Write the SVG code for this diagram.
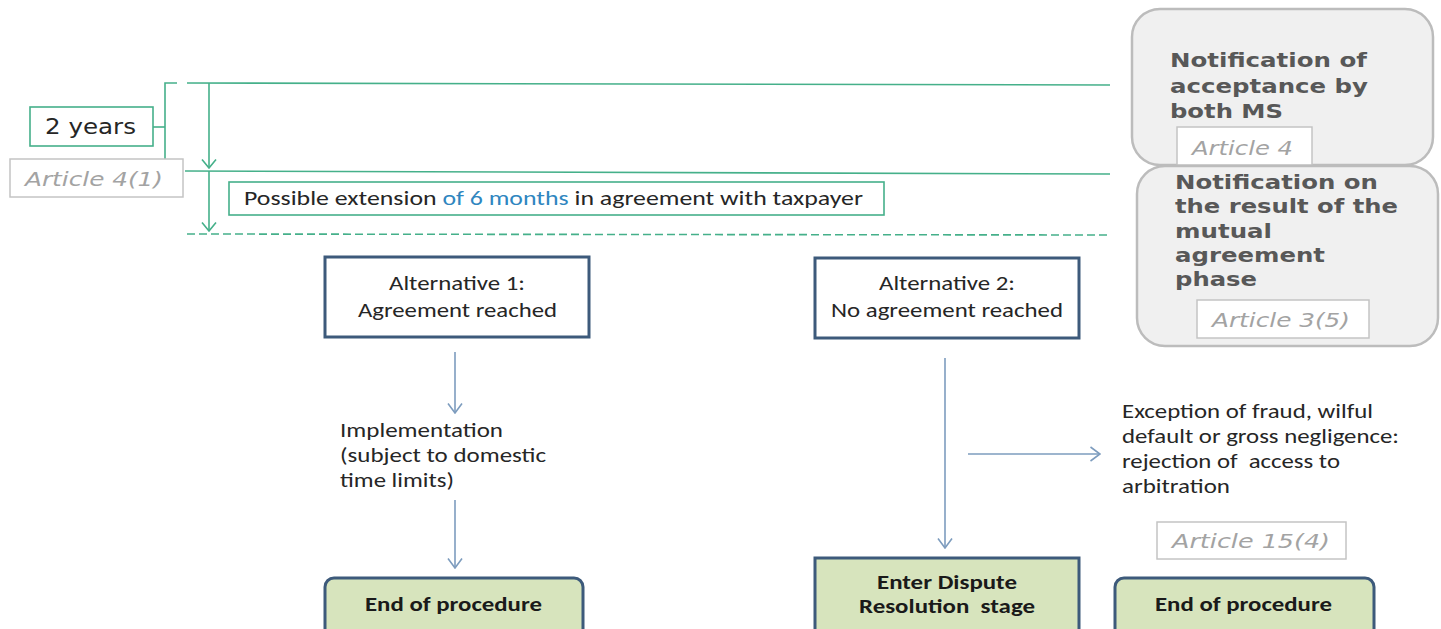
<svg xmlns="http://www.w3.org/2000/svg" width="1441" height="629" viewBox="0 0 1441 629">
<defs>
<style>
.g{stroke:#45b08a;stroke-width:1.6;fill:none}
.gd{stroke:#45b08a;stroke-width:1.6;fill:none;stroke-dasharray:8 4}
.bl{stroke:#7d9cbe;stroke-width:1.6;fill:none}
.art{fill:#fff;stroke:#c4c4c4;stroke-width:1.5}
.artt{font-family:"DejaVu Sans",sans-serif;font-style:italic;font-size:20px;fill:#a3a3a3}
.notif{fill:#f0f0f0;stroke:#bcbcbc;stroke-width:2.5}
.nt{font-family:"DejaVu Sans",sans-serif;font-weight:bold;font-size:19px;fill:#585858}
.alt{fill:#fff;stroke:#3d5a7b;stroke-width:3}
.cal{font-family:"Carlito","Liberation Sans",sans-serif;font-size:21px;fill:#262626}
.end{fill:#d7e4bd;stroke:#3d5a7b;stroke-width:3}
.et{font-family:"Carlito","Liberation Sans",sans-serif;font-weight:bold;font-size:21px;fill:#1a1a1a}
</style>
<marker id="ag" viewBox="0 0 10 16" markerWidth="10" markerHeight="16" refX="9" refY="8" orient="auto" markerUnits="userSpaceOnUse">
<path d="M0.5 1 L9 8 L0.5 15" fill="none" stroke="#45b08a" stroke-width="1.6"/>
</marker>
<marker id="ab" viewBox="0 0 11 16" markerWidth="11" markerHeight="16" refX="10" refY="8" orient="auto" markerUnits="userSpaceOnUse">
<path d="M0.5 1 L10 8 L0.5 15" fill="none" stroke="#7d9cbe" stroke-width="1.6"/>
</marker>
</defs>
<rect width="1441" height="629" fill="#fff"/>

<g id="connectors">
<line class="g" x1="187" y1="83" x2="1110" y2="85"/>
<line class="g" x1="185" y1="171" x2="1110" y2="174"/>
<line class="gd" x1="187" y1="234" x2="1110" y2="235"/>
<path class="g" d="M177 83 H165 V171 H177"/>
<line class="g" x1="153" y1="127" x2="165" y2="127"/>
<line class="g" x1="209" y1="83" x2="209" y2="168" marker-end="url(#ag)"/>
<line class="g" x1="209" y1="171" x2="209" y2="231" marker-end="url(#ag)"/>
<line class="bl" x1="455" y1="352" x2="455" y2="413" marker-end="url(#ab)"/>
<line class="bl" x1="455" y1="500" x2="455" y2="568" marker-end="url(#ab)"/>
<line class="bl" x1="945" y1="358" x2="945" y2="548" marker-end="url(#ab)"/>
<line class="bl" x1="968" y1="454" x2="1100" y2="454" marker-end="url(#ab)"/>
</g>

<g id="two-years">
<rect x="30" y="107" width="123" height="39" fill="#fff" stroke="#45b08a" stroke-width="1.6"/>
<text x="45" y="134" font-family="DejaVu Sans,sans-serif" font-size="21" fill="#262626" textLength="91" lengthAdjust="spacingAndGlyphs">2 years</text>
</g>
<g id="article-4-1">
<rect class="art" x="10" y="159" width="173" height="38"/>
<text class="artt" x="25" y="186" textLength="138" lengthAdjust="spacingAndGlyphs">Article 4(1)</text>
</g>
<g id="extension">
<rect x="229" y="182" width="655" height="33" fill="#fff" stroke="#45b08a" stroke-width="1.6"/>
<text class="cal" x="244" y="205" textLength="619" lengthAdjust="spacingAndGlyphs">Possible extension <tspan fill="#2f86bf">of 6 months</tspan> in agreement with taxpayer</text>
</g>

<g id="notif-acceptance">
<rect class="notif" x="1132" y="9" width="301" height="156" rx="28"/>
<text class="nt" x="1170" y="67" textLength="197" lengthAdjust="spacingAndGlyphs">Notification of</text>
<text class="nt" x="1170" y="93" textLength="198" lengthAdjust="spacingAndGlyphs">acceptance by</text>
<text class="nt" x="1170" y="118" textLength="113" lengthAdjust="spacingAndGlyphs">both MS</text>
<rect class="art" x="1177" y="127" width="135" height="38"/>
<text class="artt" x="1192" y="155" textLength="101" lengthAdjust="spacingAndGlyphs">Article 4</text>
</g>
<g id="notif-result">
<rect class="notif" x="1137" y="166" width="301" height="180" rx="28"/>
<text class="nt" x="1175" y="189" textLength="203" lengthAdjust="spacingAndGlyphs">Notification on</text>
<text class="nt" x="1175" y="213" textLength="223" lengthAdjust="spacingAndGlyphs">the result of the</text>
<text class="nt" x="1175" y="238" textLength="97" lengthAdjust="spacingAndGlyphs">mutual</text>
<text class="nt" x="1175" y="262" textLength="150" lengthAdjust="spacingAndGlyphs">agreement</text>
<text class="nt" x="1175" y="286" textLength="82" lengthAdjust="spacingAndGlyphs">phase</text>
<rect class="art" x="1197" y="300" width="172" height="38"/>
<text class="artt" x="1212" y="327" textLength="138" lengthAdjust="spacingAndGlyphs">Article 3(5)</text>
</g>

<g id="alt1">
<rect class="alt" x="325" y="257" width="264" height="80"/>
<text class="cal" x="389" y="290" textLength="136" lengthAdjust="spacingAndGlyphs">Alternative 1:</text>
<text class="cal" x="358" y="317" textLength="199" lengthAdjust="spacingAndGlyphs">Agreement reached</text>
</g>
<g id="alt2">
<rect class="alt" x="815" y="258" width="264" height="80"/>
<text class="cal" x="879" y="290" textLength="136" lengthAdjust="spacingAndGlyphs">Alternative 2:</text>
<text class="cal" x="831" y="317" textLength="232" lengthAdjust="spacingAndGlyphs">No agreement reached</text>
</g>

<g id="implementation">
<text class="cal" x="340" y="437" textLength="163" lengthAdjust="spacingAndGlyphs">Implementation</text>
<text class="cal" x="340" y="462" textLength="206" lengthAdjust="spacingAndGlyphs">(subject to domestic</text>
<text class="cal" x="340" y="487" textLength="114" lengthAdjust="spacingAndGlyphs">time limits)</text>
</g>
<g id="end1">
<rect class="end" x="325" y="578" width="258" height="62" rx="9"/>
<text class="et" x="365" y="611" textLength="177" lengthAdjust="spacingAndGlyphs">End of procedure</text>
</g>

<g id="exception">
<text class="cal" x="1122" y="418" textLength="251" lengthAdjust="spacingAndGlyphs">Exception of fraud, wilful</text>
<text class="cal" x="1122" y="443" textLength="277" lengthAdjust="spacingAndGlyphs">default or gross negligence:</text>
<text class="cal" x="1122" y="468" textLength="218" lengthAdjust="spacingAndGlyphs" xml:space="preserve">rejection of  access to</text>
<text class="cal" x="1122" y="493" textLength="108" lengthAdjust="spacingAndGlyphs">arbitration</text>
</g>
<g id="article-15-4">
<rect class="art" x="1157" y="522" width="189" height="37"/>
<text class="artt" x="1172" y="548" textLength="158" lengthAdjust="spacingAndGlyphs">Article 15(4)</text>
</g>
<g id="dispute">
<rect class="end" x="815" y="558" width="264" height="82"/>
<text class="et" x="877" y="589" textLength="140" lengthAdjust="spacingAndGlyphs">Enter Dispute</text>
<text class="et" x="859" y="613" textLength="176" lengthAdjust="spacingAndGlyphs" xml:space="preserve">Resolution  stage</text>
</g>
<g id="end2">
<rect class="end" x="1115" y="578" width="259" height="62" rx="9"/>
<text class="et" x="1155" y="611" textLength="177" lengthAdjust="spacingAndGlyphs">End of procedure</text>
</g>
</svg>
